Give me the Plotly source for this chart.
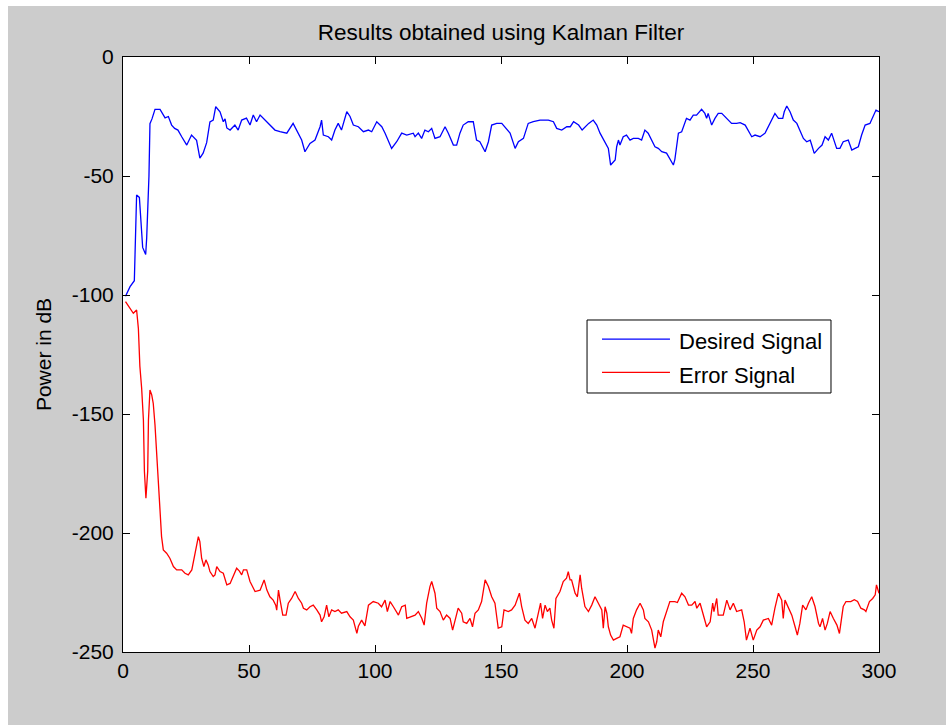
import plotly.graph_objects as go

# ---- data ----
desired_x = [1, 2.8, 4.5, 5, 5.4, 6.5, 7.1, 7.8, 9, 9.4, 10.3, 10.7, 11.5, 12.7, 14.7, 16.7, 18, 19.3, 20.5, 21.8,
             23.3, 25.3, 27.2, 29.2, 30.5, 31.8, 33.2, 34.5, 35.8, 36.8, 38.5, 39.8, 40.5, 41.2, 42.5, 44.4, 45.7, 47.1, 49, 50.4,
             51.7, 53, 54.4, 56.3, 58.3, 60.3, 62.3, 65, 67.5, 69.6, 70.9, 72.2, 74.2, 76.2, 78.2, 78.8, 79.5, 81.5, 82.8, 84.1,
             85.4, 86.7, 88.8, 90.1, 91.4, 93.4, 95.4, 97.4, 98.7, 100.7, 102.7, 104, 106.6, 108.6, 110.6, 112.6, 115.2, 115.9, 117.2, 118.5,
             119.8, 121.2, 122.5, 123.8, 125.8, 127.8, 129.1, 131.1, 132.4, 133.7, 135, 137, 139, 140.3, 141.6, 143.7, 145, 146.3, 148.3, 150.3,
             152.3, 153.6, 155.6, 156.9, 158.9, 160.8, 162.8, 165.5, 168.8, 170.8, 172.1, 174.1, 176.1, 177.5, 178.8, 180.8, 182.2, 184.8, 186.6, 188,
             189.3, 191.3, 192.6, 193.5, 194.6, 195.3, 195.9, 196.6, 197.2, 198.5, 199.8, 201.2, 202.5, 204.5, 205.8, 207.1, 208.4, 209.8, 211.1, 212.4,
             213.8, 215.7, 217, 218.4, 219, 219.7, 220.4, 221.7, 223, 223.6, 225, 226.3, 227.6, 229, 229.6, 230.9, 231.6, 232.2, 233.6, 234.9,
             236.2, 237.6, 239.6, 241.5, 243.5, 244.9, 246.9, 248.1, 249.5, 250.8, 252.8, 254.8, 256.1, 257.4, 258.7, 260.1, 261.8, 262.4, 263.4, 264.7,
             266, 267.4, 268.7, 270, 271.3, 272.7, 273.3, 274.3, 276, 277.4, 278.6, 279.9, 281.2, 282.5, 283.2, 284.5, 285.8, 287.8, 289.2, 290.5,
             291.8, 293.1, 294.5, 296.4, 297.8, 298.8, 300]
desired_y = [-100.5, -96.5, -94, -75, -58, -59, -70, -80, -83, -76, -50, -28, -26, -22, -22, -25.6, -25, -28.6, -30, -30.7,
             -33.5, -37, -32.8, -35, -42.5, -40.4, -36, -27.3, -26.5, -20.9, -23, -27.2, -26, -29.8, -30.7, -28.6, -30.7, -26.5, -25.7, -28.6,
             -24.4, -27.2, -24.4, -26.5, -28.6, -30.7, -31.4, -32, -27.9, -32, -34.9, -39.8, -36.3, -34.9, -29.3, -26.5, -32.8, -33.5, -34.9, -30.7,
             -27.9, -30.7, -23, -25, -28.6, -29.3, -31.4, -30.7, -31.4, -27.2, -29.3, -32, -38.4, -35.6, -32, -32.8, -32, -33.5, -32, -34.2,
             -30.7, -31.4, -30, -34.2, -33.5, -29.3, -32, -37, -37, -32, -28.6, -27.2, -27.2, -34.9, -35.6, -39.8, -35.6, -28.6, -27.9, -27.9,
             -30.7, -32, -38.4, -35.6, -34.2, -27.9, -27.2, -26.5, -26.5, -27.2, -30, -30.7, -29.3, -29.3, -27.2, -28.6, -30.7, -27.9, -26.5, -28.6,
             -32, -35.6, -38.4, -45.4, -44, -43.3, -37.7, -34.9, -37, -33.5, -32.8, -34.9, -34.2, -34.2, -34.9, -30.7, -32, -34.9, -37.7, -38.4,
             -39.8, -40.4, -42.6, -45.4, -43, -37.7, -32, -31.4, -27.9, -25.8, -26.5, -24.4, -24.4, -23, -22, -23.7, -25.8, -23.7, -28.6, -25.8,
             -23.7, -23.7, -25.8, -27.9, -27.9, -27.6, -28.6, -30.7, -33.5, -32.8, -33.5, -32, -29.3, -26.5, -23.7, -25.8, -25.8, -23, -20.6, -23,
             -26.5, -27.9, -31.4, -34.2, -35.6, -34.9, -37, -40.5, -38.4, -37, -33.5, -34.9, -32, -35.6, -38.4, -38.4, -35.6, -34.9, -39.1, -38.4,
             -37.7, -32.8, -28.6, -27.9, -25, -22.3, -23]

error_x = [1, 2.8, 4.1, 5.4, 6.1, 6.7, 7.4, 8.1, 8.5, 9.1, 9.8, 10.1, 10.7, 11.4, 12, 12.7, 13.4, 14, 14.7, 15.3,
           16, 17.3, 18.6, 20, 21.3, 23.3, 24.6, 25.9, 27.3, 28.6, 29.9, 30.5, 31.2, 32.1, 32.9, 33.8, 34.5, 35.8, 36.5, 37.2,
           38.5, 39.8, 41.2, 42.5, 43.8, 45.1, 46.2, 47.1, 47.8, 49.1, 50.4, 52.4, 54.4, 56, 57.1, 58.3, 59.6, 60.6, 61, 61.7,
           62.3, 63.4, 64.7, 65.6, 66.9, 68.3, 69.6, 70.9, 71.6, 72.9, 74.2, 75.5, 76.9, 78.2, 78.8, 79.8, 80.8, 81.7, 82.8, 84.1,
           85.4, 86.7, 88.8, 90.1, 91.4, 92.8, 93.4, 94.7, 96, 97.4, 99.3, 101.3, 102.6, 104, 104.9, 106, 107.3, 109.3, 110.6, 112,
           112.6, 114.6, 115.9, 117.2, 118.6, 119.5, 120.5, 121.8, 122.5, 123.8, 124.5, 125.8, 127.1, 128.4, 129.8, 130.8, 131.7, 133, 134.4, 135,
           136.4, 137.7, 138.7, 139.7, 141, 142.3, 143.7, 145, 146.3, 147.6, 148.3, 148.9, 150.3, 151.2, 152.9, 154.2, 155.6, 157.3, 158.2, 159.5,
           160.8, 162.2, 163.5, 164.8, 165.7, 166.5, 167.5, 168.4, 169.4, 170.1, 171, 171.8, 173.4, 174.7, 176, 176.7, 177.4, 178, 179.4, 180.3,
           181.4, 182, 183.3, 184.7, 186, 187.3, 188.6, 190, 190.6, 191.3, 192, 192.6, 193.5, 194.6, 195.9, 197.2, 198.5, 199.8, 201.2, 201.8,
           202.5, 203.8, 205.2, 206.5, 207.1, 208.5, 209.8, 211.1, 211.8, 212.4, 213.4, 214.4, 215.7, 217, 219, 220, 221.7, 223, 224.4, 225.7,
           227, 227.7, 229, 230.3, 231.6, 233, 234, 234.5, 235.6, 236.2, 238.2, 239.6, 240.9, 242.2, 243.5, 245.5, 246.5, 247.4, 248.8, 250.1,
           251.5, 252.8, 254.1, 256.1, 257.4, 258.7, 260.1, 261.4, 262, 262.7, 264, 265.4, 266.7, 267.6, 268.6, 269.7, 271, 272, 273.3, 274.6,
           276, 276.6, 277.6, 278.6, 279.5, 280.6, 281.9, 283.3, 284.3, 285.8, 286.9, 288.8, 290.2, 291.5, 292.8, 294.2, 294.8, 296.2, 297.5, 298.5,
           299, 300]
error_y = [-102.8, -105.6, -107.7, -106.3, -114, -130, -139.2, -152.5, -174.2, -185.4, -174, -152.5, -139.9, -142, -145.5, -154.6, -167.2, -181.2, -194.5, -201.5,
           -207.1, -208.5, -210.6, -214.1, -215.5, -215.5, -216.9, -217.6, -215.5, -209.2, -201.5, -203.6, -210.6, -214.1, -211.3, -213.4, -216.2, -218.3, -217.6, -214.1,
           -216.2, -216.9, -221.8, -221.2, -217.6, -214.8, -216, -217.6, -215.5, -215.5, -220.4, -224.6, -224, -219.7, -224, -226.8, -228.2, -230.3, -232.4, -224,
           -228, -234.5, -234.5, -229.5, -227.5, -224.6, -227.5, -229.5, -231.6, -232.3, -231, -230.3, -232.3, -234.5, -237.3, -235.2, -230.3, -235.2, -232.3, -233,
           -232.3, -233.7, -233, -235.2, -236.6, -242.2, -239.2, -236.6, -239, -230.3, -228.8, -229.5, -231, -228.2, -233, -228.8, -231, -234.5, -231, -230.3,
           -235.9, -235.2, -234.5, -233, -235.9, -238.7, -229.5, -222.5, -220.4, -225.3, -231.6, -233, -236.6, -234.5, -235.9, -240.8, -237.3, -231.6, -233.7, -237.3,
           -238, -235.9, -239.4, -233.7, -232.3, -228.8, -219.7, -222.5, -226.8, -229.5, -235.2, -240, -239.4, -232.3, -233, -232.3, -230.3, -225.3, -230.9, -236.6,
           -238, -235.9, -240, -233, -229.5, -235.9, -230.3, -233, -231.6, -236.6, -240, -227.5, -224.6, -220.4, -219, -216.2, -219.7, -219.7, -225.3, -226.8,
           -217.6, -223.2, -230.9, -233, -230.3, -226.8, -229.5, -232.3, -240, -231, -233.7, -239.4, -242.9, -245, -244.3, -243.6, -238.7, -239.4, -240, -242.2,
           -235.9, -232.3, -229.5, -232.3, -235.9, -237.3, -240.8, -248.4, -245.7, -240.8, -243.6, -237.3, -233, -228.8, -228.8, -229.2, -225.3, -226.8, -230.3, -230.3,
           -228.8, -231.6, -229.5, -234.5, -239.4, -237.3, -229.5, -233, -227.5, -234.5, -234.5, -228.2, -232.3, -229.5, -233, -232.3, -237.3, -245, -240, -245,
           -240.8, -239.4, -236.6, -235.9, -238.7, -231.6, -225.3, -228.2, -235.9, -228.2, -231, -234.5, -239.4, -242.9, -238, -230.3, -232.3, -229.5, -226.8, -230.9,
           -238, -239.4, -235.9, -240.8, -238, -233, -235.9, -238.7, -242.2, -230.9, -228.8, -228.8, -228, -228.8, -231.6, -232.3, -233, -228.8, -227.5, -226,
           -221.8, -225.3]

x_ticks = [0, 50, 100, 150, 200, 250, 300]
y_ticks = [-250, -200, -150, -100, -50, 0]

series_names = ["Desired Signal", "Error Signal"]
series_colors = ["#0000FF", "#FF0000"]

FONT = "Liberation Sans, Arial, Helvetica, sans-serif"

fig = go.Figure()
fig.add_trace(go.Scatter(x=desired_x, y=desired_y, mode="lines", name=series_names[0],
                         line=dict(color=series_colors[0], width=1.3), showlegend=False))
fig.add_trace(go.Scatter(x=error_x, y=error_y, mode="lines", name=series_names[1],
                         line=dict(color=series_colors[1], width=1.3), showlegend=False))

# figure frame: white strip at top/left, gray MATLAB figure background, white axes
shapes = [
    dict(type="rect", xref="paper", yref="paper", x0=-0.1521, x1=1.12, y0=-0.2, y1=1.0857,
         fillcolor="#CCCCCC", line=dict(width=0), layer="below"),
    dict(type="rect", xref="paper", yref="paper", x0=0, x1=1, y0=0, y1=1,
         fillcolor="#FFFFFF", line=dict(width=0), layer="below"),
]

# manual MATLAB-style legend box
lg_x0, lg_x1, lg_y0, lg_y1 = 0.6138, 0.9365, 0.4353, 0.558
shapes.append(dict(type="rect", xref="paper", yref="paper", x0=lg_x0, x1=lg_x1, y0=lg_y0, y1=lg_y1,
                   fillcolor="#FFFFFF", line=dict(color="#000000", width=1), layer="above"))
line_rows = [0.526, 0.470]
text_rows = [0.5215, 0.4655]
annotations = []
for name, col, ly, ty in zip(series_names, series_colors, line_rows, text_rows):
    shapes.append(dict(type="line", xref="paper", yref="paper", x0=0.6336, x1=0.7235, y0=ly, y1=ly,
                       line=dict(color=col, width=1.3), layer="above"))
    annotations.append(dict(text=name, xref="paper", yref="paper", x=0.733, y=ty,
                            xanchor="left", yanchor="middle", showarrow=False,
                            font=dict(family=FONT, size=22, color="#000000")))

fig.update_layout(
    width=946, height=725, autosize=False,
    margin=dict(l=123, r=67, t=57, b=73, pad=0),
    paper_bgcolor="#FFFFFF", plot_bgcolor="#FFFFFF",
    font=dict(family=FONT, size=21, color="#000000"),
    title=dict(text="Results obtained using Kalman Filter", x=0.5, xref="paper", xanchor="center",
               y=1 - 32 / 725, yref="container", yanchor="middle",
               font=dict(family=FONT, size=22.5, color="#000000")),
    shapes=shapes,
    annotations=annotations,
    showlegend=False,
)
fig.update_xaxes(range=[0, 300], tickvals=x_ticks, ticktext=[str(v) for v in x_ticks],
                 ticks="inside", ticklen=7, tickwidth=1, tickcolor="#000000",
                 showline=True, linecolor="#000000", linewidth=1, mirror="ticks",
                 showgrid=False, zeroline=False, ticklabelstandoff=0,
                 tickfont=dict(family=FONT, size=21, color="#000000"))
fig.update_yaxes(range=[-250, 0], tickvals=y_ticks, ticktext=[str(v) for v in y_ticks],
                 ticks="inside", ticklen=7, tickwidth=1, tickcolor="#000000",
                 showline=True, linecolor="#000000", linewidth=1, mirror="ticks",
                 showgrid=False, zeroline=False, ticklabelstandoff=4,
                 title=dict(text="Power in dB", standoff=14,
                            font=dict(family=FONT, size=21, color="#000000")),
                 tickfont=dict(family=FONT, size=21, color="#000000"))

fig.write_html("out.html")
